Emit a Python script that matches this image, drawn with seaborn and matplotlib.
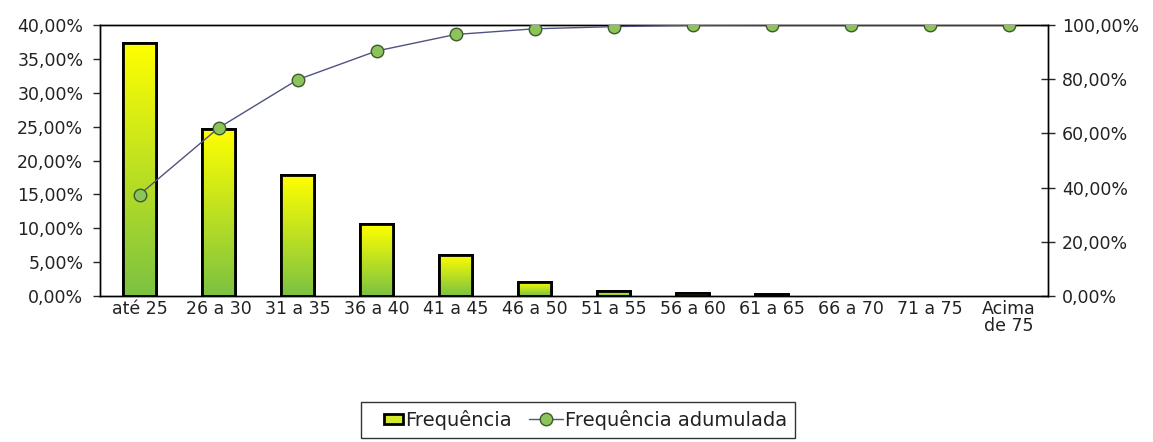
import numpy as np
import pandas as pd
import seaborn as sns
import matplotlib
matplotlib.use("Agg")
import matplotlib.pyplot as plt
import matplotlib.ticker as ticker
from matplotlib.colors import LinearSegmentedColormap
from matplotlib.patches import Patch, Rectangle
from matplotlib.lines import Line2D
from matplotlib.legend_handler import HandlerPatch

faixas = ["até 25", "26 a 30", "31 a 35", "36 a 40", "41 a 45", "46 a 50",
          "51 a 55", "56 a 60", "61 a 65", "66 a 70", "71 a 75", "Acima\nde 75"]
frequencia = [37.4, 24.6, 17.8, 10.6, 6.1, 2.1, 0.8, 0.5, 0.3, 0.0, 0.0, 0.0]
acumulada = [37.4, 62.0, 79.8, 90.4, 96.5, 98.6, 99.4, 99.9, 100.0, 100.0, 100.0, 100.0]

df = pd.DataFrame({"faixa": faixas, "freq": frequencia, "acum": acumulada})

sns.set_style("white")
plt.rcParams["font.family"] = ["DejaVu Sans"]

fig = plt.figure(figsize=(11.53, 4.42), dpi=100)
ax = fig.add_axes([100/1153, 1-296/442, 948/1153, 271/442])

sns.barplot(data=df, x="faixa", y="freq", ax=ax, width=0.42,
            color="#ffff00", edgecolor="black", linewidth=2, zorder=2)

# gradiente amarelo -> verde dentro das barras
grad = LinearSegmentedColormap.from_list("g", ["#7cc242", "#ffff00"])
for p in ax.patches:
    x0, y0 = p.get_x(), p.get_y()
    w, h = p.get_width(), p.get_height()
    if h <= 0:
        p.set_visible(False)
        continue
    im = ax.imshow(np.linspace(0, 1, 100).reshape(-1, 1), cmap=grad, origin="lower",
                   extent=[x0, x0 + w, y0, y0 + h], aspect="auto", zorder=2.5)
    im.set_clip_path(p)
    ax.add_patch(plt.Rectangle((x0, y0), w, h, fill=False, edgecolor="black",
                               linewidth=2, zorder=3))

ax.set_xlim(-0.5, 11.5)
ax.set_ylim(0, 40)
ax.set_xlabel("")
ax.set_ylabel("")
ax.yaxis.set_major_locator(ticker.MultipleLocator(5))
fmt = ticker.FuncFormatter(lambda v, pos: f"{v:.2f}%".replace(".", ","))
ax.yaxis.set_major_formatter(fmt)
ax.xaxis.set_minor_locator(ticker.FixedLocator(np.arange(0.5, 11.5, 1)))
ax.tick_params(axis="x", which="major", length=0, labelsize=12.5, pad=3,
               labelcolor="#222222")
ax.tick_params(axis="x", which="minor", length=10, width=1, direction="inout", color="black")
ax.tick_params(axis="y", length=5, width=1, direction="out", left=True, labelsize=12.5,
               pad=7, labelcolor="#222222")
for lbl in ax.get_xticklabels():
    lbl.set_linespacing(0.95)
for s in ax.spines.values():
    s.set_color("black")
    s.set_linewidth(1)

ax2 = ax.twinx()
sns.lineplot(x=np.arange(len(faixas)), y=df["acum"], ax=ax2, color="#4f5380",
             linewidth=1, marker="o", markersize=9, markerfacecolor="#8cc35a",
             markeredgecolor="#3c5a2c", markeredgewidth=1, zorder=5)
ax2.set_ylim(0, 100)
ax2.set_ylabel("")
ax2.yaxis.set_major_locator(ticker.MultipleLocator(20))
ax2.yaxis.set_major_formatter(fmt)
ax2.tick_params(axis="y", length=10, width=1, direction="inout", right=True, labelsize=12.5,
                pad=5, labelcolor="#222222")
for s in ax2.spines.values():
    s.set_color("black")
    s.set_linewidth(1)


# caixinha da legenda mais curta que a linha
def small_box(legend, orig_handle, xdescent, ydescent, width, height, fontsize):
    bw = width * 0.55
    return Rectangle((width - bw - xdescent, -ydescent + height * 0.15), bw, height * 0.7)


handles = [Patch(facecolor="#d4ea2a", edgecolor="black", linewidth=2),
           Line2D([0], [0], color="#4f5380", linewidth=1, marker="o", markersize=9,
                  markerfacecolor="#8cc35a", markeredgecolor="#3c5a2c")]
leg = fig.legend(handles, ["Frequência", "Frequência adumulada"], loc="center",
                 bbox_to_anchor=(578/1153, 1-420/442), ncol=2, fontsize=14,
                 frameon=True, fancybox=False, edgecolor="black",
                 handlelength=1.75, handleheight=0.7, columnspacing=0.9,
                 handletextpad=0.1, borderpad=0.4, borderaxespad=0,
                 handler_map={Patch: HandlerPatch(patch_func=small_box)})
leg.get_frame().set_linewidth(1)
for t in leg.get_texts():
    t.set_color("#222222")

fig.savefig("out.png", dpi=100)
